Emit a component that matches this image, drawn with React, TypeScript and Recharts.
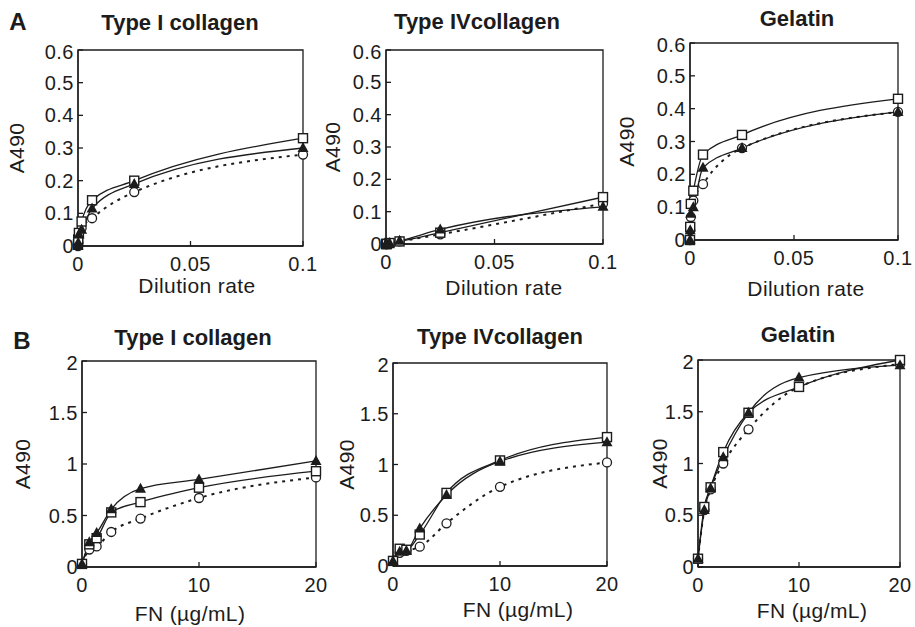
import React from 'react';
import { LineChart, Line, XAxis, YAxis, ReferenceArea } from 'recharts';

// x values
const dilutionRate = [0, 0.0001, 0.0004, 0.0016, 0.00625, 0.025, 0.1];
const fnConc = [0, 0.625, 1.25, 2.5, 5, 10, 20];

// tick labels
const dilutionTicks = [0, 0.05, 0.1];
const fnTicks = [0, 10, 20];
const a490TicksA = [0, 0.1, 0.2, 0.3, 0.4, 0.5, 0.6];
const a490TicksB = [0, 0.5, 1, 1.5, 2];

// A: dilution series (open square / filled triangle / open circle)
const aCol1Square = [0.005, 0.02, 0.04, 0.075, 0.14, 0.2, 0.33];
const aCol1Triangle = [0, 0.01, 0.035, 0.05, 0.115, 0.19, 0.3];
const aCol1Circle = [0, 0.01, 0.03, 0.055, 0.085, 0.165, 0.28];

const aCol4Square = [0, 0, 0, 0.003, 0.008, 0.035, 0.145];
const aCol4Triangle = [0, 0, 0, 0.003, 0.01, 0.045, 0.115];
const aCol4Circle = [0, 0, 0, 0.003, 0.008, 0.03, 0.125];

const aGelSquare = [0, 0.04, 0.11, 0.15, 0.26, 0.32, 0.43];
const aGelTriangle = [0, 0.03, 0.08, 0.1, 0.22, 0.28, 0.39];
const aGelCircle = [0, 0.03, 0.07, 0.12, 0.17, 0.28, 0.39];

// B: FN concentration series
const bCol1Square = [0.03, 0.22, 0.28, 0.53, 0.63, 0.77, 0.93];
const bCol1Triangle = [0.03, 0.24, 0.33, 0.56, 0.76, 0.85, 1.03];
const bCol1Circle = [0.03, 0.17, 0.2, 0.34, 0.47, 0.67, 0.87];

const bCol4Square = [0.05, 0.17, 0.16, 0.31, 0.72, 1.04, 1.27];
const bCol4Triangle = [0.05, 0.14, 0.15, 0.37, 0.7, 1.03, 1.22];
const bCol4Circle = [0.05, 0.13, 0.15, 0.19, 0.42, 0.78, 1.02];

const bGelSquare = [0.08, 0.58, 0.77, 1.11, 1.49, 1.74, 2.0];
const bGelTriangle = [0.08, 0.55, 0.76, 1.06, 1.49, 1.83, 1.95];
const bGelCircle = [0.08, 0.55, 0.75, 1.0, 1.33, 1.74, 1.96];

const INK = '#1c1c1c';
const FONT = '"Liberation Sans", Arial, sans-serif';
const YW = 95;
const XH = 70;
const TOP = 10;
const RIGHT = 16;

const square = (props: any) => {
  const { cx, cy, index } = props;
  if (cx == null || cy == null) return <g key={`s${index}`} />;
  return <rect key={`s${index}`} x={cx - 4.5} y={cy - 4.5} width={9} height={9} fill="#fff" stroke={INK} strokeWidth={1.4} />;
};
const triangle = (props: any) => {
  const { cx, cy, index } = props;
  if (cx == null || cy == null) return <g key={`t${index}`} />;
  return <polygon key={`t${index}`} points={`${cx},${cy - 6} ${cx - 5.5},${cy + 4} ${cx + 5.5},${cy + 4}`} fill={INK} />;
};
const circle = (props: any) => {
  const { cx, cy, index } = props;
  if (cx == null || cy == null) return <g key={`c${index}`} />;
  return <circle key={`c${index}`} cx={cx} cy={cy} r={4.5} fill="#fff" stroke={INK} strokeWidth={1.3} />;
};

interface PanelProps {
  box: { x0: number; x1: number; y0: number; y1: number };
  xs: number[];
  sq: number[];
  tri: number[];
  cir: number[];
  xTicks: number[];
  yTicks: number[];
  xLabel: string;
  yLabelX: number;
  xLabelPos: [number, number];
}

const Panel: React.FC<PanelProps> = ({ box, xs, sq, tri, cir, xTicks, yTicks, xLabel, yLabelX, xLabelPos }) => {
  const data = xs.map((x, i) => ({ x, sq: sq[i], tri: tri[i], cir: cir[i] }));
  const w = box.x1 - box.x0 + YW + RIGHT;
  const h = box.y1 - box.y0 + TOP + XH;
  const xMax = xTicks[xTicks.length - 1];
  const yMax = yTicks[yTicks.length - 1];
  const tickStyle = { fontSize: 20, fill: INK, fontFamily: FONT, letterSpacing: 0.5 };
  const labelStyle = { fontSize: 21, fill: INK, fontFamily: FONT, letterSpacing: 0.4 };
  return (
    <div style={{ position: 'absolute', left: box.x0 - YW, top: box.y0 - TOP }}>
      <LineChart width={w} height={h} data={data} margin={{ top: TOP, right: RIGHT, left: 0, bottom: 0 }}>
        <XAxis
          dataKey="x"
          type="number"
          domain={[0, xMax]}
          ticks={xTicks}
          height={XH}
          tick={tickStyle}
          tickSize={-5}
          tickMargin={16}
          stroke={INK}
          strokeWidth={1.3}
          label={{
            value: xLabel,
            position: 'center',
            dx: xLabelPos[0] - (box.x0 + box.x1) / 2,
            dy: xLabelPos[1] - (box.y1 + XH / 2),
            style: labelStyle,
          }}
        />
        <YAxis
          type="number"
          domain={[0, yMax]}
          ticks={yTicks}
          width={YW}
          tick={tickStyle}
          tickSize={-5}
          tickMargin={9}
          stroke={INK}
          strokeWidth={1.3}
          label={{
            value: 'A490',
            angle: -90,
            position: 'center',
            dx: yLabelX - (box.x0 - YW / 2),
            style: labelStyle,
          }}
        />
        <ReferenceArea x1={0} x2={xMax} y1={0} y2={yMax} fill="none" stroke={INK} strokeWidth={1.3} />
        <Line type="monotone" dataKey="cir" stroke={INK} strokeWidth={2} strokeDasharray="3 5" dot={circle} isAnimationActive={false} />
        <Line type="monotone" dataKey="sq" stroke={INK} strokeWidth={1.3} dot={square} isAnimationActive={false} />
        <Line type="monotone" dataKey="tri" stroke={INK} strokeWidth={1.3} dot={triangle} isAnimationActive={false} />
      </LineChart>
    </div>
  );
};

const Title: React.FC<{ x: number; y: number; size?: number; children: React.ReactNode }> = ({ x, y, size = 22, children }) => (
  <div
    style={{
      position: 'absolute',
      left: x,
      top: y,
      transform: 'translate(-50%, -50%)',
      fontFamily: FONT,
      fontWeight: 'bold',
      fontSize: size,
      color: INK,
      whiteSpace: 'nowrap',
      lineHeight: 1,
    }}
  >
    {children}
  </div>
);

export default function App() {
  return (
    <div style={{ position: 'absolute', left: 0, top: 0, width: 915, height: 627, background: '#fff', overflow: 'hidden' }}>
      <Title x={18} y={22} size={24}>A</Title>
      <Title x={22} y={341} size={24}>B</Title>

      <Title x={180} y={23}>Type I collagen</Title>
      <Title x={477} y={22}>Type IVcollagen</Title>
      <Title x={797} y={19}>Gelatin</Title>
      <Title x={193} y={338}>Type I collagen</Title>
      <Title x={500} y={337}>Type IVcollagen</Title>
      <Title x={798} y={335}>Gelatin</Title>

      <Panel box={{ x0: 78, x1: 303, y0: 50, y1: 246 }} xs={dilutionRate} sq={aCol1Square} tri={aCol1Triangle} cir={aCol1Circle}
        xTicks={dilutionTicks} yTicks={a490TicksA} xLabel="Dilution rate" yLabelX={17} xLabelPos={[197, 286]} />
      <Panel box={{ x0: 386, x1: 603, y0: 50, y1: 244 }} xs={dilutionRate} sq={aCol4Square} tri={aCol4Triangle} cir={aCol4Circle}
        xTicks={dilutionTicks} yTicks={a490TicksA} xLabel="Dilution rate" yLabelX={333} xLabelPos={[504, 288]} />
      <Panel box={{ x0: 690, x1: 898, y0: 43, y1: 240 }} xs={dilutionRate} sq={aGelSquare} tri={aGelTriangle} cir={aGelCircle}
        xTicks={dilutionTicks} yTicks={a490TicksA} xLabel="Dilution rate" yLabelX={627} xLabelPos={[806, 289]} />

      <Panel box={{ x0: 82, x1: 316, y0: 361, y1: 567 }} xs={fnConc} sq={bCol1Square} tri={bCol1Triangle} cir={bCol1Circle}
        xTicks={fnTicks} yTicks={a490TicksB} xLabel="FN (µg/mL)" yLabelX={23} xLabelPos={[190, 614]} />
      <Panel box={{ x0: 393, x1: 607, y0: 363, y1: 566 }} xs={fnConc} sq={bCol4Square} tri={bCol4Triangle} cir={bCol4Circle}
        xTicks={fnTicks} yTicks={a490TicksB} xLabel="FN (µg/mL)" yLabelX={347} xLabelPos={[518, 610]} />
      <Panel box={{ x0: 698, x1: 900, y0: 360, y1: 567 }} xs={fnConc} sq={bGelSquare} tri={bGelTriangle} cir={bGelCircle}
        xTicks={fnTicks} yTicks={a490TicksB} xLabel="FN (µg/mL)" yLabelX={660} xLabelPos={[812, 611]} />
    </div>
  );
}
